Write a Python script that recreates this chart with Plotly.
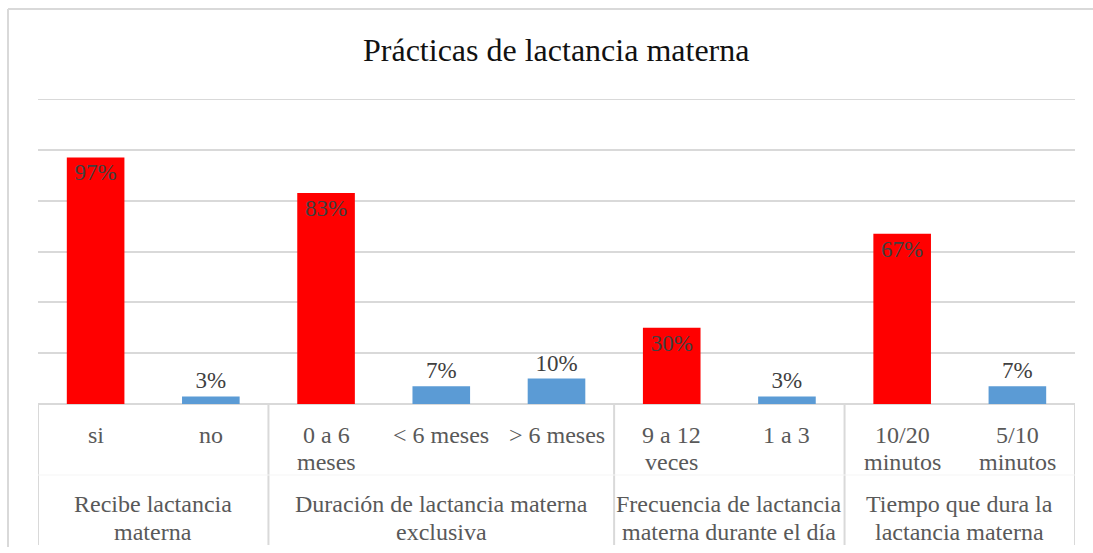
import plotly.graph_objects as go

# Chart data: survey results on breastfeeding practices (percent)
groups = [
    "Recibe lactancia\nmaterna",
    "Duración de lactancia materna\nexclusiva",
    "Frecuencia de lactancia\nmaterna durante el día",
    "Tiempo que dura la\nlactancia materna",
]
group_sizes = [2, 3, 2, 2]
categories = [
    "si", "no",
    "0 a 6\nmeses", "< 6 meses", "> 6 meses",
    "9 a 12\nveces", "1 a 3",
    "10/20\nminutos", "5/10\nminutos",
]
values = [97, 3, 83, 7, 10, 30, 3, 67, 7]
leading = [True, False, True, False, False, True, False, True, False]

W, H = 1093, 553
L, R, T, B = 38, 1075, 99, 404  # plot area in pixels
Y_MAX = 120

RED = "#FF0000"
BLUE = "#5B9BD5"
GRID = "#D9D9D9"
LABEL = "#595959"
FONT = "Liberation Serif"


def px(x):
    return (x - L) / (R - L)


def py(y):
    return (B - y) / (B - T)


xs = list(range(len(categories)))
red_x = [x for x, f in zip(xs, leading) if f]
red_v = [v for v, f in zip(values, leading) if f]
blue_x = [x for x, f in zip(xs, leading) if not f]
blue_v = [v for v, f in zip(values, leading) if not f]

fig = go.Figure()
fig.add_trace(go.Bar(
    x=red_x, y=red_v, width=0.5,
    marker=dict(color=RED, line=dict(width=0)),
    text=[f"{v}%" for v in red_v], textposition="inside",
    insidetextanchor="end", textangle=0,
    textfont=dict(family=FONT, size=23, color="#404040"),
    cliponaxis=False, showlegend=False,
))
fig.add_trace(go.Bar(
    x=blue_x, y=blue_v, width=0.5,
    marker=dict(color=BLUE, line=dict(width=0)),
    text=[f"{v}%" for v in blue_v], textposition="outside", textangle=0,
    textfont=dict(family=FONT, size=23, color="#404040"),
    cliponaxis=False, showlegend=False,
))

shapes = []
annotations = []

# Chart frame (top and left edges)
shapes.append(dict(type="line", xref="paper", yref="paper",
                   x0=px(8), x1=px(1100), y0=py(9), y1=py(9),
                   line=dict(color=GRID, width=2)))
shapes.append(dict(type="line", xref="paper", yref="paper",
                   x0=px(8), x1=px(8), y0=py(9), y1=py(547),
                   line=dict(color=GRID, width=2)))

# Top gridline sits on the edge of the value range
shapes.append(dict(type="line", xref="paper", yref="y",
                   x0=0, x1=1, y0=Y_MAX, y1=Y_MAX,
                   line=dict(color=GRID, width=2), layer="below"))

# Group separators below the category axis
bounds = [-0.5]
for n in group_sizes:
    bounds.append(bounds[-1] + n)
for b in bounds:
    shapes.append(dict(type="line", xref="x", yref="paper",
                       x0=b, x1=b, y0=0, y1=py(545),
                       line=dict(color=GRID, width=2)))
# faint rule between the two label rows
shapes.append(dict(type="line", xref="paper", yref="paper",
                   x0=0, x1=1, y0=py(475), y1=py(475),
                   line=dict(color="#F5F5F5", width=1)))

# Category labels (first row)
for x, cat in zip(xs, categories):
    for i, line in enumerate(cat.split("\n")):
        annotations.append(dict(
            x=x, xref="x", y=py(435 + 27 * i), yref="paper",
            text=line, showarrow=False, xanchor="center", yanchor="middle",
            font=dict(family=FONT, size=24, color=LABEL)))

# Group labels (second row)
for g, name in enumerate(groups):
    center = (bounds[g] + bounds[g + 1]) / 2
    for i, line in enumerate(name.split("\n")):
        annotations.append(dict(
            x=center, xref="x", y=py(504 + 28 * i), yref="paper",
            text=line, showarrow=False, xanchor="center", yanchor="middle",
            font=dict(family=FONT, size=24, color=LABEL)))

# Title
annotations.append(dict(
    x=px(556), xref="paper", y=py(50), yref="paper",
    text="Prácticas de lactancia materna", showarrow=False,
    xanchor="center", yanchor="middle",
    font=dict(family=FONT, size=32, color="#111111")))

fig.update_layout(
    width=W, height=H,
    margin=dict(l=L, r=W - R, t=T, b=H - B, pad=0),
    paper_bgcolor="white", plot_bgcolor="white",
    barmode="overlay",
    xaxis=dict(range=[-0.5, len(categories) - 0.5], showticklabels=False,
               showgrid=False, zeroline=False, showline=False, ticks=""),
    yaxis=dict(range=[0, Y_MAX], dtick=20, showticklabels=False,
               showgrid=True, gridcolor=GRID, gridwidth=2,
               zeroline=True, zerolinecolor=GRID, zerolinewidth=2,
               showline=False, ticks=""),
    shapes=shapes,
    annotations=annotations,
)

fig.write_html("out.html")
